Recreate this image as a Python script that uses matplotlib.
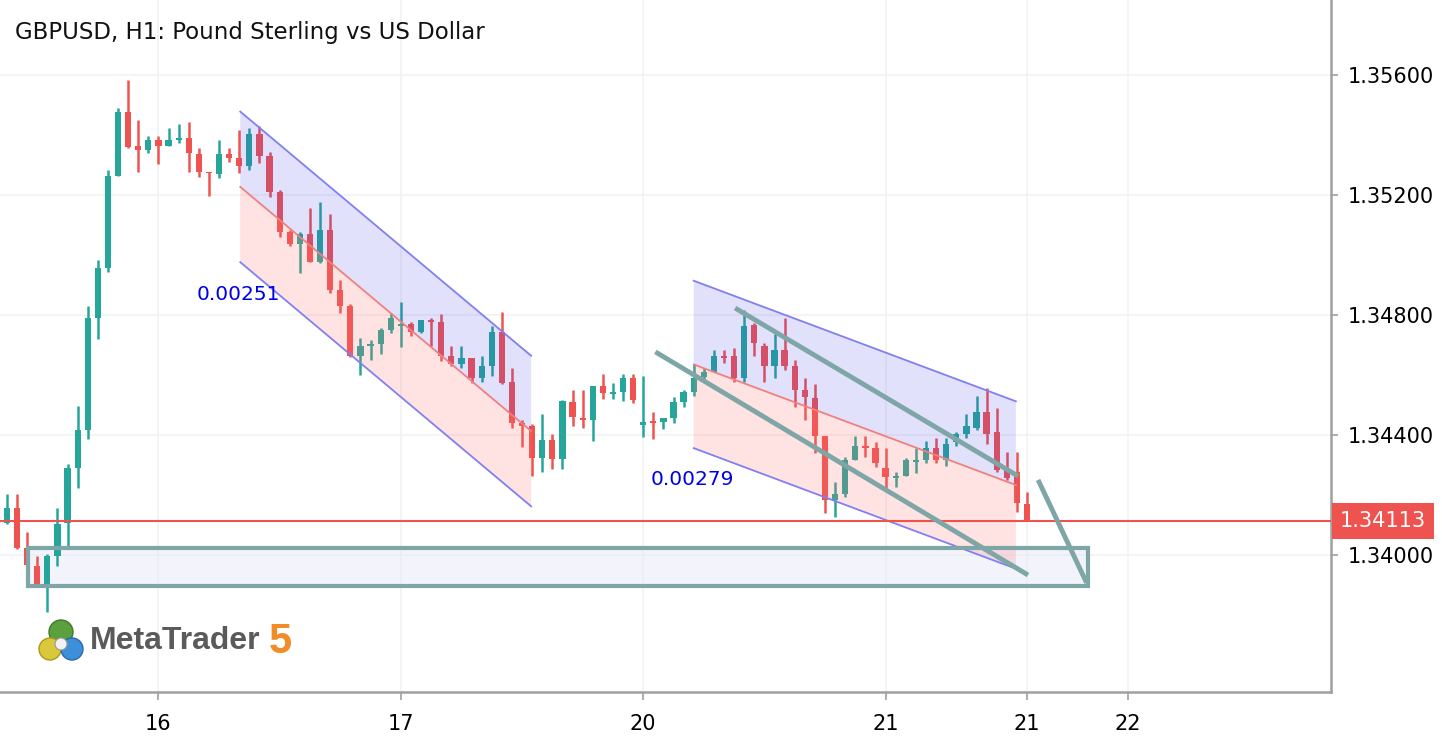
import numpy as np
import matplotlib.pyplot as plt
from matplotlib.patches import Rectangle, Polygon, Circle

# ---------------------------------------------------------------------------
# GBPUSD H1 candles
# ---------------------------------------------------------------------------
opens = [1.34107, 1.34157, 1.34023, 1.33963, 1.33903, 1.33997, 1.34107, 1.34290, 1.34417, 1.34790,
         1.34957, 1.35263, 1.35477, 1.35363, 1.35350, 1.35383, 1.35363, 1.35383, 1.35390, 1.35337,
         1.35277, 1.35270, 1.35337, 1.35323, 1.35297, 1.35403, 1.35330, 1.35210, 1.35077, 1.35037,
         1.35070, 1.34977, 1.35083, 1.34883, 1.34830, 1.34663, 1.34697, 1.34703, 1.34750, 1.34763,
         1.34770, 1.34743, 1.34783, 1.34777, 1.34663, 1.34637, 1.34657, 1.34590, 1.34630, 1.34743,
         1.34577, 1.34440, 1.34430, 1.34323, 1.34383, 1.34320, 1.34510, 1.34457, 1.34450, 1.34563,
         1.34537, 1.34543, 1.34590, 1.34433, 1.34443, 1.34443, 1.34457, 1.34510, 1.34543, 1.34593,
         1.34610, 1.34663, 1.34663, 1.34590, 1.34767, 1.34697, 1.34630, 1.34683, 1.34630, 1.34550,
         1.34523, 1.34397, 1.34183, 1.34203, 1.34317, 1.34363, 1.34357, 1.34290, 1.34257, 1.34263,
         1.34310, 1.34317, 1.34357, 1.34317, 1.34377, 1.34403, 1.34423, 1.34477, 1.34410, 1.34287,
         1.34277, 1.34170]
highs = [1.34203, 1.34203, 1.34077, 1.33997, 1.34003, 1.34157, 1.34303, 1.34497, 1.34830, 1.34983,
         1.35283, 1.35490, 1.35583, 1.35450, 1.35397, 1.35397, 1.35423, 1.35437, 1.35443, 1.35357,
         1.35277, 1.35383, 1.35357, 1.35417, 1.35423, 1.35430, 1.35343, 1.35217, 1.35083, 1.35077,
         1.35157, 1.35177, 1.35137, 1.34917, 1.34837, 1.34723, 1.34717, 1.34757, 1.34807, 1.34843,
         1.34777, 1.34783, 1.34790, 1.34803, 1.34697, 1.34697, 1.34657, 1.34663, 1.34763, 1.34810,
         1.34623, 1.34450, 1.34437, 1.34470, 1.34403, 1.34517, 1.34550, 1.34550, 1.34563, 1.34603,
         1.34573, 1.34603, 1.34603, 1.34597, 1.34477, 1.34457, 1.34527, 1.34550, 1.34637, 1.34623,
         1.34683, 1.34683, 1.34690, 1.34817, 1.34773, 1.34707, 1.34737, 1.34790, 1.34650, 1.34590,
         1.34570, 1.34397, 1.34243, 1.34327, 1.34397, 1.34397, 1.34377, 1.34357, 1.34277, 1.34323,
         1.34357, 1.34380, 1.34390, 1.34390, 1.34410, 1.34470, 1.34530, 1.34557, 1.34490, 1.34343,
         1.34343, 1.34210]
lows = [1.34103, 1.34020, 1.33967, 1.33903, 1.33810, 1.33963, 1.34027, 1.34223, 1.34387, 1.34720,
        1.34943, 1.35263, 1.35357, 1.35277, 1.35340, 1.35303, 1.35363, 1.35373, 1.35277, 1.35260,
        1.35197, 1.35257, 1.35310, 1.35273, 1.35283, 1.35307, 1.35193, 1.35060, 1.35030, 1.34940,
        1.34977, 1.34973, 1.34873, 1.34807, 1.34660, 1.34600, 1.34650, 1.34670, 1.34740, 1.34693,
        1.34730, 1.34740, 1.34697, 1.34647, 1.34630, 1.34623, 1.34573, 1.34577, 1.34597, 1.34570,
        1.34423, 1.34360, 1.34263, 1.34277, 1.34287, 1.34287, 1.34430, 1.34423, 1.34380, 1.34520,
        1.34520, 1.34513, 1.34507, 1.34393, 1.34387, 1.34420, 1.34440, 1.34493, 1.34530, 1.34583,
        1.34610, 1.34640, 1.34577, 1.34577, 1.34663, 1.34577, 1.34590, 1.34617, 1.34493, 1.34450,
        1.34340, 1.34140, 1.34127, 1.34193, 1.34317, 1.34327, 1.34293, 1.34223, 1.34227, 1.34263,
        1.34273, 1.34307, 1.34307, 1.34297, 1.34363, 1.34390, 1.34417, 1.34370, 1.34277, 1.34250,
        1.34143, 1.34113]
closes = [1.34157, 1.34023, 1.33967, 1.33903, 1.33997, 1.34103, 1.34290, 1.34417, 1.34790, 1.34957,
          1.35263, 1.35477, 1.35360, 1.35350, 1.35383, 1.35363, 1.35383, 1.35390, 1.35340, 1.35277,
          1.35273, 1.35337, 1.35323, 1.35297, 1.35403, 1.35330, 1.35210, 1.35077, 1.35037, 1.35070,
          1.34977, 1.35083, 1.34883, 1.34830, 1.34663, 1.34697, 1.34703, 1.34750, 1.34790, 1.34770,
          1.34743, 1.34783, 1.34777, 1.34663, 1.34637, 1.34657, 1.34590, 1.34630, 1.34743, 1.34573,
          1.34440, 1.34430, 1.34323, 1.34383, 1.34320, 1.34513, 1.34460, 1.34450, 1.34563, 1.34540,
          1.34543, 1.34590, 1.34517, 1.34443, 1.34440, 1.34457, 1.34510, 1.34543, 1.34590, 1.34610,
          1.34663, 1.34657, 1.34590, 1.34763, 1.34707, 1.34630, 1.34683, 1.34630, 1.34550, 1.34527,
          1.34397, 1.34183, 1.34203, 1.34317, 1.34363, 1.34357, 1.34307, 1.34260, 1.34263, 1.34317,
          1.34317, 1.34357, 1.34317, 1.34370, 1.34403, 1.34430, 1.34477, 1.34403, 1.34283, 1.34257,
          1.34173, 1.34113]

price_ticks = [1.35600, 1.35200, 1.34800, 1.34400, 1.34000]
date_pos = [15, 39, 63, 87, 101, 111]
date_labels = ["16", "17", "20", "21", "21", "22"]
last_price = 1.34113

# regression channels: bar start, bar end, mid-line start, mid-line end, deviation
chan_x = [(23.1, 51.9), (68.0, 99.9)]
chan_mid = [(1.35227, 1.34413), (1.34635, 1.34233)]
chan_dev = [0.00251, 0.00279]
chan_label_pos = [(18.8, 1.34867), (63.7, 1.34253)]

# hand-drawn trend lines (bar, price) -> (bar, price)
trend_x = [(64.2, 101.1), (72.1, 100.1), (102.1, 106.9)]
trend_y = [(1.34677, 1.33933), (1.34823, 1.34263), (1.34250, 1.33907)]

# support zone rectangle
zone_x = (2.1, 107.0)
zone_y = (1.33897, 1.34023)

UP = "#26a69a"
DOWN = "#ef5350"
TEAL_LINE = "#7fa6a6"

fig = plt.figure(figsize=(14.42, 7.40), dpi=100)
ax = fig.add_axes([0, 48 / 740, 1331 / 1442, 692 / 740])

idx = np.arange(len(opens))
o = np.array(opens)
c = np.array(closes)
colors = [UP if cc >= oo else DOWN for oo, cc in zip(o, c)]
ax.vlines(idx, lows, highs, colors=colors, lw=1.8, zorder=3)
body_lo = np.minimum(o, c)
body_h = np.maximum(np.abs(c - o), 0.00005)
ax.bar(idx, body_h, bottom=body_lo, width=0.62, color=colors, lw=0, zorder=3)

# channels (semi-transparent, drawn over candles like MT5)
for (x0, x1), (m0, m1), dev, (lx, ly) in zip(chan_x, chan_mid, chan_dev, chan_label_pos):
    up = Polygon([(x0, m0), (x0, m0 + dev), (x1, m1 + dev), (x1, m1)],
                 closed=True, fc="#3c3cf0", alpha=0.15, ec="none", zorder=4)
    dn = Polygon([(x0, m0), (x0, m0 - dev), (x1, m1 - dev), (x1, m1)],
                 closed=True, fc="#ff7070", alpha=0.2, ec="none", zorder=4)
    ax.add_patch(up)
    ax.add_patch(dn)
    ax.plot([x0, x1], [m0 + dev, m1 + dev], color="#8080f0", lw=1.3, zorder=5)
    ax.plot([x0, x1], [m0 - dev, m1 - dev], color="#8080f0", lw=1.3, zorder=5)
    ax.plot([x0, x1], [m0, m1], color="#f08080", lw=1.3, zorder=5)
    ax.text(lx, ly, f"{dev:.5f}", color="#0000e6", fontsize=14.5,
            va="center", ha="left", zorder=6)

# support zone
ax.add_patch(Rectangle((zone_x[0], zone_y[0]), zone_x[1] - zone_x[0], zone_y[1] - zone_y[0],
                       fc="#e8e8f8", alpha=0.5, ec="none", zorder=2))
ax.add_patch(Rectangle((zone_x[0], zone_y[0]), zone_x[1] - zone_x[0], zone_y[1] - zone_y[0],
                       fill=False, ec=TEAL_LINE, lw=3, zorder=6))

for xs, ys in zip(trend_x, trend_y):
    ax.plot(xs, ys, color=TEAL_LINE, lw=3.5, solid_capstyle="butt", zorder=6)

# last price line + tag
ax.axhline(last_price, color="#ef5350", lw=1.5, zorder=5)
ax.annotate(f"{last_price:.5f}", xy=(1.0, last_price), xycoords=("axes fraction", "data"),
            xytext=(6.5, 0), textcoords="offset points", va="center", ha="left",
            color="white", fontsize=15,
            bbox=dict(boxstyle="square,pad=0.4", fc="#ef5350", ec="none"),
            annotation_clip=False, zorder=10)

ax.set_xlim(-0.69, 131.1)
ax.set_ylim(1.33543, 1.3585)

ax.set_xticks(date_pos)
ax.set_xticklabels(date_labels)
ax.set_yticks(price_ticks)
ax.set_yticklabels([f"{p:.5f}" for p in price_ticks])
ax.yaxis.tick_right()
ax.tick_params(axis="y", length=5, width=1.2, color="#a0a0a0", labelsize=15, pad=7)
ax.tick_params(axis="x", length=6, width=1.2, color="#a0a0a0", labelsize=15, pad=10)
ax.grid(True, color="#f2f2f2", lw=1.2, zorder=0)
ax.set_axisbelow(True)
for s in ["top", "left"]:
    ax.spines[s].set_visible(False)
for s in ["right", "bottom"]:
    ax.spines[s].set_color("#a0a0a0")
    ax.spines[s].set_linewidth(1.8)

fig.text(15 / 1442, 1 - 33 / 740, "GBPUSD, H1: Pound Sterling vs US Dollar",
         fontsize=16.5, va="center", ha="left", color="#111111")

# MetaTrader 5 watermark
logo = fig.add_axes([38 / 1442, 1 - 666 / 740, 46 / 1442, 50 / 740])
logo.set_xlim(0, 46)
logo.set_ylim(0, 50)
logo.axis("off")
logo.add_patch(Circle((23, 34), 12, fc="#5aa03c", ec="#3d7a2a", lw=1))
logo.add_patch(Circle((12, 17), 11, fc="#d9c83a", ec="#a89a20", lw=1))
logo.add_patch(Circle((34, 17), 11, fc="#3c8fd8", ec="#2a6aa8", lw=1))
logo.add_patch(Circle((23, 22), 6, fc="#f2f2f2", ec="#999999", lw=0.8))
fig.text(90 / 1442, 1 - 641 / 740, "MetaTrader", fontsize=23, fontweight="bold",
         family=["Liberation Sans Narrow", "Liberation Sans", "DejaVu Sans"],
         color="#5a5a5a", va="center", ha="left")
fig.text(269 / 1442, 1 - 642 / 740, "5", fontsize=30, fontweight="bold",
         family=["Liberation Sans", "DejaVu Sans"],
         color="#f28c28", va="center", ha="left")

fig.savefig("out.png", dpi=100, facecolor="white")
